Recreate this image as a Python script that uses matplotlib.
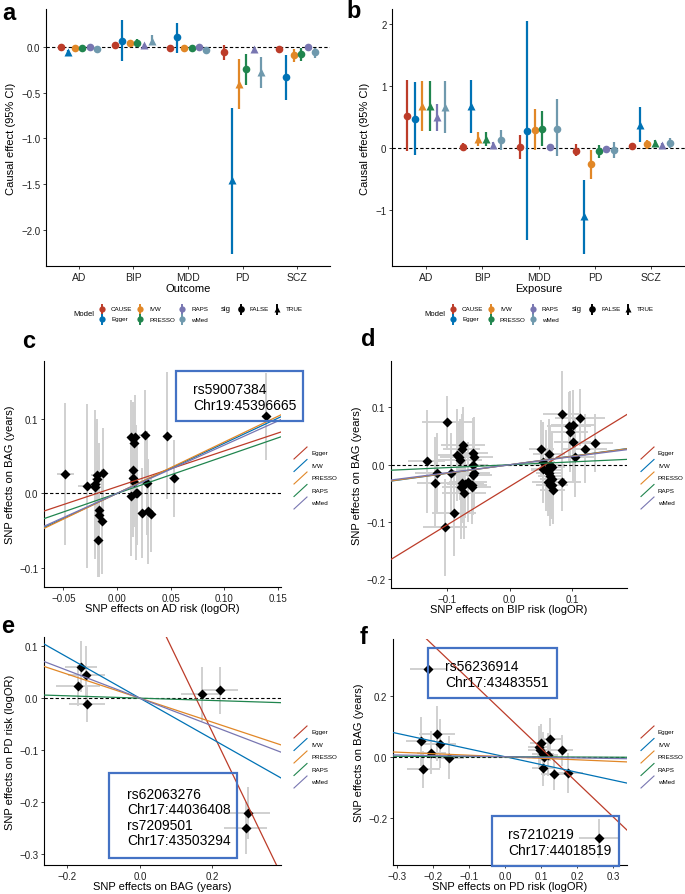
import numpy as np
import matplotlib
matplotlib.use('Agg')
import matplotlib.pyplot as plt
from matplotlib.lines import Line2D
from matplotlib.patches import Rectangle
from matplotlib.ticker import FuncFormatter

plt.rcParams['font.family'] = ['Liberation Sans', 'DejaVu Sans']

### data: panels a/b (rows = models, cols = AD, BIP, MDD, PD, SCZ)
traits = ['AD', 'BIP', 'MDD', 'PD', 'SCZ']
models = ['CAUSE', 'Egger', 'IVW', 'PRESSO', 'RAPS', 'wMed']
model_colors = ['#BC3C29', '#0072B5', '#E18727', '#20854E', '#7876B1', '#6F99AD']

a_est = [[0.00, 0.02, -0.01, -0.055, -0.02],
         [-0.05, 0.073, 0.11, -1.46, -0.33],
         [-0.005, 0.045, -0.01, -0.40, -0.085],
         [-0.005, 0.048, -0.01, -0.24, -0.075],
         [0.00, 0.02, 0.00, -0.018, 0.00],
         [-0.015, 0.07, -0.025, -0.27, -0.055]]
a_lo = [[-0.02, -0.005, -0.03, -0.135, -0.04],
        [-0.07, -0.15, -0.06, -2.27, -0.574],
        [-0.02, 0.00, -0.03, -0.68, -0.16],
        [-0.02, 0.01, -0.03, -0.41, -0.15],
        [-0.01, 0.00, -0.01, -0.03, -0.01],
        [-0.03, 0.02, -0.05, -0.445, -0.115]]
a_hi = [[0.02, 0.045, 0.01, 0.025, 0.00],
        [-0.03, 0.30, 0.27, -0.67, -0.084],
        [0.01, 0.085, 0.01, -0.13, -0.02],
        [0.01, 0.09, 0.01, -0.07, -0.01],
        [0.01, 0.04, 0.01, -0.005, 0.01],
        [0.00, 0.135, 0.00, -0.11, -0.01]]
a_sig = [[0, 0, 0, 0, 0],
         [1, 0, 0, 1, 0],
         [0, 0, 0, 1, 0],
         [0, 0, 0, 0, 0],
         [0, 1, 0, 1, 0],
         [0, 1, 0, 1, 0]]

b_est = [[0.525, 0.025, 0.02, -0.04, 0.04],
         [0.47, 0.68, 0.28, -1.10, 0.37],
         [0.68, 0.15, 0.30, -0.25, 0.065],
         [0.69, 0.15, 0.31, -0.05, 0.08],
         [0.50, 0.06, 0.015, -0.01, 0.05],
         [0.67, 0.13, 0.32, -0.03, 0.08]]
b_lo = [[-0.04, -0.03, -0.17, -0.13, 0.01],
        [-0.11, 0.24, -1.48, -1.71, 0.11],
        [0.28, 0.03, -0.02, -0.49, -0.01],
        [0.28, 0.03, 0.03, -0.16, 0.03],
        [0.28, 0.02, -0.02, -0.04, 0.02],
        [0.24, -0.03, -0.13, -0.16, 0.00]]
b_hi = [[1.10, 0.08, 0.21, 0.07, 0.07],
        [1.07, 1.11, 2.05, -0.51, 0.66],
        [1.08, 0.26, 0.64, -0.02, 0.13],
        [1.08, 0.26, 0.60, 0.05, 0.13],
        [0.71, 0.10, 0.05, 0.02, 0.08],
        [1.08, 0.29, 0.79, 0.11, 0.17]]
b_sig = [[0, 0, 0, 0, 0],
         [0, 1, 0, 1, 1],
         [1, 1, 0, 0, 0],
         [1, 1, 0, 0, 1],
         [1, 1, 0, 0, 1],
         [1, 0, 0, 0, 0]]

### data: panels c-f (SNP effects)
line_models = ['Egger', 'IVW', 'PRESSO', 'RAPS', 'wMed']
line_colors = ['#BC3C29', '#0072B5', '#E18727', '#20854E', '#7876B1']

c_x = [-0.048, -0.028, -0.020, -0.019, -0.019, -0.013, -0.020, -0.017, -0.017, -0.014,
       -0.0175, 0.013, 0.017, 0.016, 0.015, 0.015, 0.016, 0.013, 0.019, 0.018,
       0.026, 0.028, 0.023, 0.029, 0.032, 0.047, 0.053, 0.139]
c_y = [0.026, 0.010, 0.012, 0.019, 0.024, 0.028, 0.008, -0.022, -0.029, -0.037,
       -0.062, 0.075, 0.076, 0.067, 0.032, 0.021, 0.015, -0.003, 0.001, 0.001,
       0.078, 0.014, -0.026, -0.024, -0.028, 0.077, 0.020, 0.103]
c_xse = [0.008, 0.008, 0.005, 0.004, 0.005, 0.004, 0.006, 0.004, 0.004, 0.004,
         0.004, 0.004, 0.004, 0.004, 0.004, 0.004, 0.004, 0.004, 0.004, 0.004,
         0.005, 0.004, 0.004, 0.004, 0.004, 0.004, 0.004, 0.004]
c_yse = [0.095, 0.11, 0.10, 0.08, 0.07, 0.06, 0.09, 0.09, 0.08, 0.07,
         0.05, 0.05, 0.055, 0.05, 0.09, 0.07, 0.06, 0.08, 0.07, 0.09,
         0.06, 0.07, 0.06, 0.07, 0.05, 0.085, 0.052, 0.058]
c_slope = [0.478, 0.67, 0.687, 0.495, 0.645]
c_icept = [0.009, 0, 0, 0, 0]

d_x = [-0.133, -0.117, -0.119, -0.100, -0.104, -0.094, -0.089, -0.085, -0.081, -0.079,
       -0.078, -0.077, -0.075, -0.076, -0.073, -0.071, -0.067, -0.061, -0.059, -0.057,
       -0.059, -0.059, -0.057, -0.060,
       0.051, 0.063, 0.053, 0.054, 0.059, 0.063, 0.064, 0.068, 0.065, 0.061,
       0.068, 0.068, 0.064, 0.069, 0.084, 0.084, 0.095, 0.096, 0.101, 0.101,
       0.112, 0.105, 0.121, 0.136]
d_y = [0.006, -0.014, -0.031, 0.075, -0.109, -0.015, -0.084, 0.017, 0.013, 0.009,
       -0.039, 0.028, 0.035, -0.031, -0.050, -0.033, -0.030, -0.035, 0.021, 0.013,
       0.000, -0.017, -0.014, -0.039,
       0.028, 0.019, 0.005, -0.007, -0.010, -0.014, -0.001, -0.004, -0.019, -0.030,
       -0.024, -0.035, -0.036, -0.044, -0.030, 0.088, 0.067, 0.058, 0.070, 0.039,
       0.082, 0.013, 0.028, 0.038]
d_xse = [0.03, 0.035, 0.03, 0.04, 0.035, 0.03, 0.035, 0.03, 0.03, 0.035,
         0.03, 0.03, 0.035, 0.03, 0.035, 0.03, 0.03, 0.025, 0.025, 0.03,
         0.025, 0.03, 0.025, 0.03,
         0.02, 0.025, 0.02, 0.02, 0.025, 0.02, 0.025, 0.02, 0.02, 0.025,
         0.02, 0.025, 0.02, 0.02, 0.03, 0.03, 0.035, 0.03, 0.035, 0.03,
         0.04, 0.03, 0.035, 0.03]
d_yse = [0.09, 0.07, 0.08, 0.045, 0.085, 0.07, 0.075, 0.08, 0.06, 0.07,
         0.09, 0.06, 0.065, 0.07, 0.08, 0.06, 0.07, 0.06, 0.06, 0.07,
         0.06, 0.07, 0.06, 0.065,
         0.05, 0.06, 0.07, 0.06, 0.07, 0.06, 0.07, 0.06, 0.07, 0.06,
         0.07, 0.06, 0.07, 0.06, 0.05, 0.075, 0.06, 0.07, 0.06, 0.07,
         0.05, 0.07, 0.06, 0.05]
d_slope = [0.669, 0.15, 0.148, 0.05, 0.14]
d_icept = [-0.038, 0, 0, 0, 0]

e_x = [-0.162, -0.147, -0.171, -0.145, 0.170, 0.220, 0.298, 0.292]
e_y = [0.061, 0.045, 0.024, -0.011, 0.008, 0.015, -0.222, -0.250]
e_xse = [0.045, 0.05, 0.06, 0.05, 0.057, 0.05, 0.062, 0.059]
e_yse = [0.05, 0.055, 0.04, 0.035, 0.052, 0.045, 0.05, 0.05]
e_slope = [-1.45, -0.396, -0.232, -0.0225, -0.268]
e_icept = [0.224, 0, 0, 0, 0]

f_x = [-0.214, -0.234, -0.188, -0.182, -0.205, -0.227, -0.155, 0.100, 0.094, 0.098,
       0.105, 0.109, 0.118, 0.125, 0.157, 0.105, 0.135, 0.175, 0.259]
f_y = [0.287, 0.050, 0.075, 0.042, 0.013, -0.041, -0.003, 0.046, 0.032, 0.021,
       0.010, -0.002, 0.007, 0.057, 0.021, -0.037, -0.058, -0.052, -0.267]
f_xse = [0.05, 0.04, 0.05, 0.045, 0.04, 0.045, 0.04, 0.03, 0.03, 0.035,
         0.03, 0.035, 0.03, 0.035, 0.03, 0.03, 0.035, 0.04, 0.055]
f_yse = [0.05, 0.08, 0.09, 0.08, 0.07, 0.06, 0.07, 0.06, 0.07, 0.06,
         0.07, 0.06, 0.07, 0.07, 0.05, 0.06, 0.05, 0.065, 0.065]
f_slope = [-1.124, -0.255, -0.05, -0.005, -0.019]
f_icept = [0.14, 0, 0, 0, 0]

### figure in pixel coordinates
W, H = 685, 895
fig = plt.figure(figsize=(W / 100, H / 100), dpi=100)


def fx(x):
    return x / W


def fy(y):
    return 1 - y / H


def px_axes(l, t, r, b):
    return fig.add_axes([l / W, 1 - b / H, (r - l) / W, (b - t) / H])


def fmt(f):
    def _f(v, p):
        v = 0.0 if abs(v) < 1e-9 else v
        return (f % v).replace('-', '\u2212')
    return FuncFormatter(_f)


def style(ax):
    for s in ['top', 'right']:
        ax.spines[s].set_visible(False)
    for s in ['left', 'bottom']:
        ax.spines[s].set_linewidth(0.8)
    ax.tick_params(length=2.5, width=0.6, labelsize=7, pad=1.5, colors='#222222')


def forest(ax, est, lo, hi, sig, ylim, yticks, yf, xlabel):
    ax.axhline(0, ls=(0, (3, 2)), color='black', lw=0.8, zorder=0)
    for i in range(len(models)):
        xs = np.arange(len(traits)) + 1 + (i - 2.5) * 0.8 / 6
        for j in range(len(traits)):
            ax.plot([xs[j], xs[j]], [lo[i][j], hi[i][j]], color=model_colors[i],
                    lw=1.6, solid_capstyle='butt', zorder=2)
            ax.plot(xs[j], est[i][j], marker='^' if sig[i][j] else 'o',
                    ms=6 if sig[i][j] else 5.5, color=model_colors[i], mec='none', zorder=3)
    ax.set_xlim(0.4, 5.6)
    ax.set_ylim(*ylim)
    ax.set_xticks(np.arange(len(traits)) + 1)
    ax.set_xticklabels(traits)
    ax.set_yticks(yticks)
    ax.yaxis.set_major_formatter(fmt(yf))
    style(ax)
    ax.tick_params(axis='x', labelsize=7.5)
    ax.set_ylabel('Causal effect (95% CI)', fontsize=8, labelpad=4)
    ax.set_xlabel(xlabel, fontsize=8, labelpad=1)


def mr_panel(ax, x, y, xse, yse, slope, icept, xlim, ylim, xticks, yticks, xf, yf, xlabel, ylabel):
    ax.errorbar(x, y, xerr=xse, yerr=yse, fmt='none', ecolor='#D0D0D0',
                elinewidth=1.4, capsize=0, zorder=1)
    ax.axhline(0, ls=(0, (3, 2)), color='black', lw=0.8, zorder=2)
    ax.plot(x, y, 'D', color='black', ms=5, mec='none', zorder=3)
    for k, b, c in zip(slope, icept, line_colors):
        ax.axline((0, b), slope=k, color=c, lw=0.9, zorder=4)
    ax.set_xlim(*xlim)
    ax.set_ylim(*ylim)
    ax.set_xticks(xticks)
    ax.set_yticks(yticks)
    ax.xaxis.set_major_formatter(fmt(xf))
    ax.yaxis.set_major_formatter(fmt(yf))
    style(ax)
    ax.set_xlabel(xlabel, fontsize=8, labelpad=0)
    ax.set_ylabel(ylabel, fontsize=8, labelpad=3)


def model_legend(x0, y0):
    # ggplot style legend below panels a/b
    fig.text(fx(x0), fy(y0 + 5), 'Model', fontsize=5.5, va='center')
    for i, m in enumerate(models):
        kx = x0 + [29, 67, 109][i // 2]
        ky = y0 + 10 * (i % 2)
        fig.add_artist(Line2D([fx(kx), fx(kx)], [fy(ky - 4.5), fy(ky + 4.5)],
                              color=model_colors[i], lw=1.4))
        fig.add_artist(Line2D([fx(kx)], [fy(ky)], marker='o', ms=4.5,
                              color=model_colors[i], mec='none'))
        fig.text(fx(kx + 9), fy(ky), m, fontsize=4.5, va='center')
    fig.text(fx(x0 + 148), fy(y0), 'sig', fontsize=5.5, va='center')
    for k, (lab, mk) in enumerate([('FALSE', 'o'), ('TRUE', '^')]):
        kx = x0 + 168 + 36 * k
        fig.add_artist(Line2D([fx(kx), fx(kx)], [fy(y0 - 4.5), fy(y0 + 4.5)],
                              color='black', lw=1.4))
        fig.add_artist(Line2D([fx(kx)], [fy(y0)], marker=mk, ms=4.8,
                              color='black', mec='none'))
        fig.text(fx(kx + 9), fy(y0), lab, fontsize=4.5, va='center')


def line_legend(x0, y0):
    for i, m in enumerate(line_models):
        ky = y0 + 12.5 * i
        fig.add_artist(Line2D([fx(x0), fx(x0 + 13)], [fy(ky + 6), fy(ky - 6)],
                              color=line_colors[i], lw=0.8))
        fig.text(fx(x0 + 17), fy(ky), m, fontsize=4.5, va='center')


def snp_box(l, t, r, b, text, tx, ty):
    fig.add_artist(Rectangle((fx(l), fy(b)), (r - l) / W, (b - t) / H,
                             transform=fig.transFigure, fill=False,
                             edgecolor='#4472C4', lw=1.6, zorder=10))
    fig.text(fx(tx), fy(ty), text, fontsize=10, va='center', ha='left',
             linespacing=1.15, zorder=11)


### panel a
ax_a = px_axes(46, 10, 330, 267)
forest(ax_a, a_est, a_lo, a_hi, a_sig, (-2.40, 0.42), [-2.0, -1.5, -1.0, -0.5, 0.0], '%.1f', 'Outcome')
model_legend(73, 310)

### panel b
ax_b = px_axes(392, 10, 685, 267)
forest(ax_b, b_est, b_lo, b_hi, b_sig, (-1.90, 2.25), [-1, 0, 1, 2], '%.0f', 'Exposure')
model_legend(424, 310)

### panel c
ax_c = px_axes(44, 362, 281, 588)
mr_panel(ax_c, c_x, c_y, c_xse, c_yse, c_slope, c_icept, (-0.068, 0.153), (-0.125, 0.177),
         [-0.05, 0.0, 0.05, 0.10, 0.15], [-0.1, 0.0, 0.1], '%.2f', '%.1f',
         'SNP effects on AD risk (logOR)', 'SNP effects on BAG (years)')
line_legend(294, 454)
snp_box(176, 372, 303, 422, 'rs59007384\nChr19:45396665', 193, 398)

### panel d
ax_d = px_axes(391, 362, 627, 589)
mr_panel(ax_d, d_x, d_y, d_xse, d_yse, d_slope, d_icept, (-0.190, 0.188), (-0.215, 0.181),
         [-0.1, 0.0, 0.1], [-0.2, -0.1, 0.0, 0.1], '%.1f', '%.1f',
         'SNP effects on BIP risk (logOR)', 'SNP effects on BAG (years)')
line_legend(641, 454)

### panel e
ax_e = px_axes(44, 638, 281, 866)
mr_panel(ax_e, e_x, e_y, e_xse, e_yse, e_slope, e_icept, (-0.264, 0.389), (-0.322, 0.118),
         [-0.2, 0.0, 0.2], [-0.3, -0.2, -0.1, 0.0, 0.1], '%.1f', '%.1f',
         'SNP effects on BAG (years)', 'SNP effects on PD risk (logOR)')
line_legend(294, 733)
snp_box(109, 774, 237, 859, 'rs62063276\nChr17:44036408\nrs7209501\nChr17:43503294', 127, 818)

### panel f
ax_f = px_axes(393, 640, 627, 866)
mr_panel(ax_f, f_x, f_y, f_xse, f_yse, f_slope, f_icept, (-0.311, 0.338), (-0.354, 0.385),
         [-0.3, -0.2, -0.1, 0.0, 0.1, 0.2, 0.3], [-0.2, 0.0, 0.2], '%.1f', '%.1f',
         'SNP effects on PD risk (logOR)', 'SNP effects on BAG (years)')
line_legend(641, 733)
snp_box(428, 649, 557, 699, 'rs56236914\nChr17:43483551', 445, 675)
snp_box(492, 817, 619, 867, 'rs7210219\nChr17:44018519', 508, 843)

### panel letters
for lab, x, y in [('a', 2, 14), ('b', 346, 12), ('c', 22, 342), ('d', 361, 340),
                  ('e', 1, 627), ('f', 360, 638)]:
    fig.text(fx(x), fy(y), lab, fontsize=17, fontweight='bold', va='center', ha='left')

fig.savefig('out.png', dpi=100)
